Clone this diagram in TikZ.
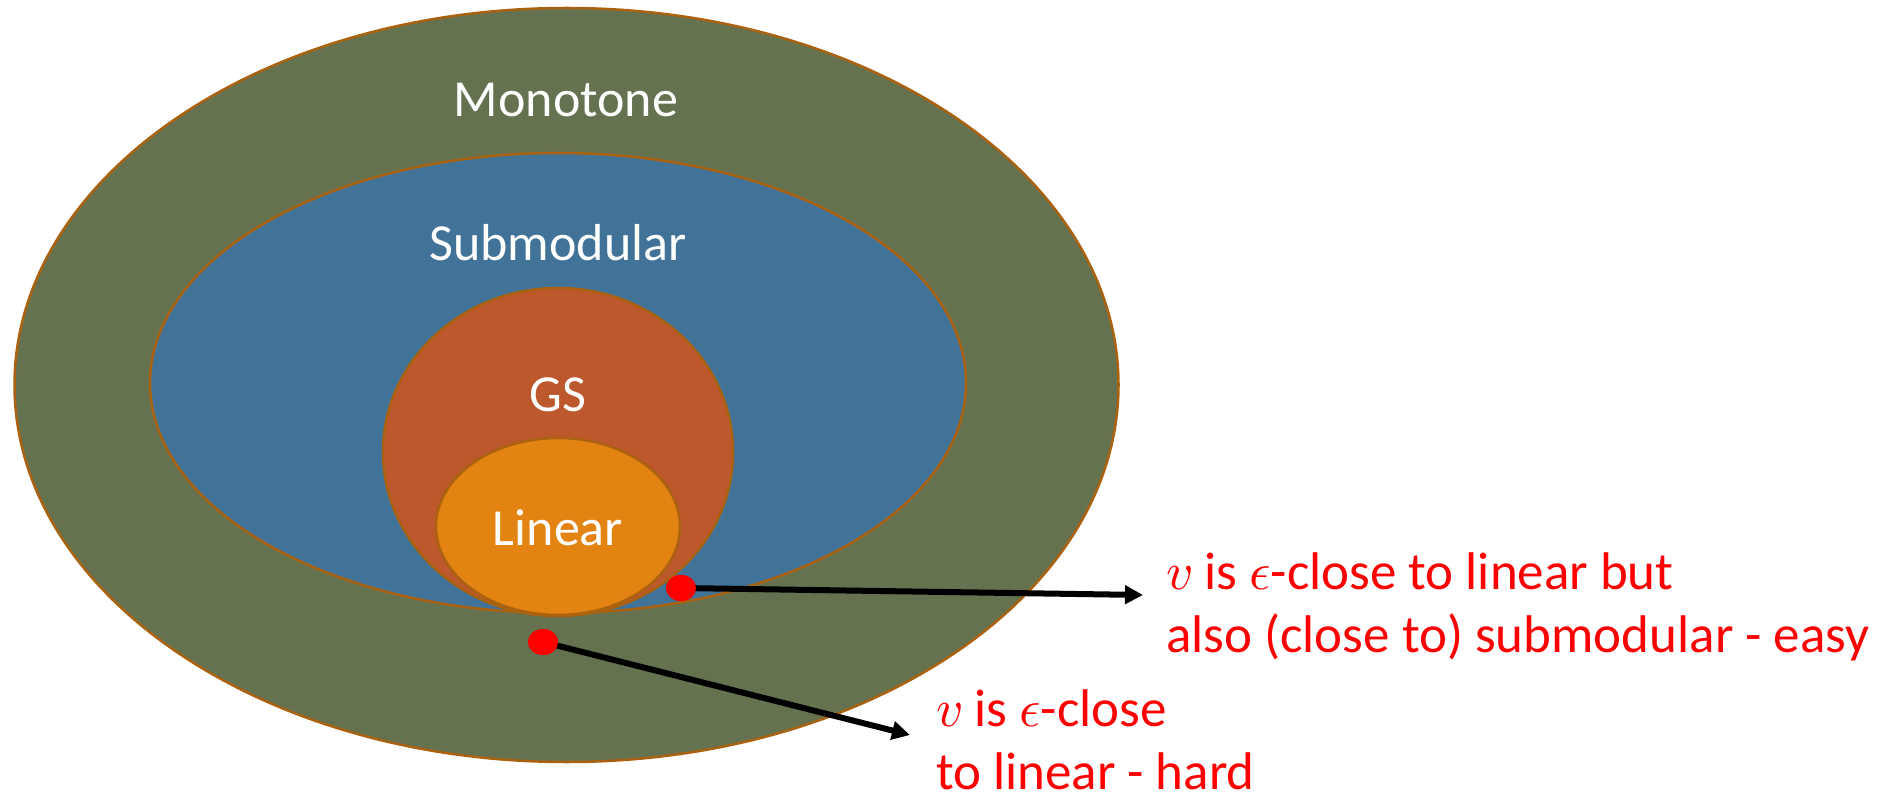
\documentclass[tikz,border=0pt]{standalone}
\usepackage{fontspec}
\usepackage{unicode-math}
\setmainfont{Carlito}
\setmathfont{Latin Modern Math}
\usetikzlibrary{shapes.geometric,arrows.meta}
\definecolor{monoC}{RGB}{100,114,80}
\definecolor{subC}{RGB}{65,114,152}
\definecolor{gsC}{RGB}{188,88,44}
\definecolor{linC}{RGB}{227,131,18}
\definecolor{edgeC}{RGB}{170,98,16}
\tikzset{
  setshape/.style={ellipse, draw=edgeC, line width=2.5pt, inner sep=0pt},
  setlabel/.style={text=white, font=\fontsize{52}{63}\selectfont},
  note/.style={text=red, font=\fontsize{53}{63}\selectfont, align=left, anchor=west, inner sep=0pt},
  dot/.style={ellipse, fill=red, minimum width=30pt, minimum height=26pt, inner sep=0pt},
  pointer/.style={line width=6pt, -{Triangle[length=18pt,width=18pt]}}
}
\begin{document}
\begin{tikzpicture}[x=1pt,y=-1pt]
\useasboundingbox (0,0) rectangle (1894,799);
\node[setshape, fill=monoC, minimum width=1104pt, minimum height=754pt] (mono) at (566.5,385) {};
\node[setshape, fill=subC, minimum width=816pt, minimum height=460pt] (sub) at (558,383) {};
\node[setshape, fill=gsC, minimum width=350pt, minimum height=328pt] (gs) at (558,452) {};
\node[setshape, fill=linC, minimum width=244pt, minimum height=177pt] (lin) at (558,526.5) {};
\node[setlabel] (tmono) at (566,100) {Monotone};
\node[setlabel] (tsub) at (558,243) {Submodular};
\node[setlabel] (tgs) at (558,395) {GS};
\node[setlabel] (tlin) at (558,528) {Linear};
\node[dot] (d1) at (681,588) {};
\node[dot] (d2) at (543,642) {};
\coordinate (a1) at (1143,595);
\coordinate (a2) at (910,735);
\draw[pointer] (d1.center) -- (a1);
\draw[pointer] (d2.center) -- (a2);
\node[dot] at (d1) {};
\node[dot] at (d2) {};
\node[note] (n1) at (1166,607) {$v$ is $\epsilon$-close to linear but\\also (close to) submodular - easy};
\node[note] (n2) at (936,740) {$v$ is $\epsilon$-close\\to linear - hard};
\end{tikzpicture}
\end{document}
